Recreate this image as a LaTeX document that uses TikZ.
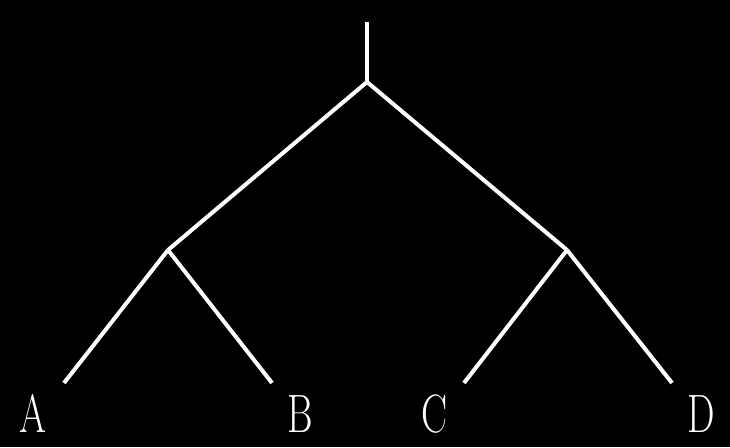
\documentclass[tikz,border=0pt]{standalone}
\usepackage{graphicx}
\usepackage{xcolor}
\usepackage{tikz}
\usetikzlibrary{positioning}
\newcommand{\leafname}[1]{\scalebox{0.72}[1]{#1}}

\begin{document}
\begin{tikzpicture}[
  x=1pt, y=-1pt,
  branch/.style={draw=white, line width=4pt},
  leaflabel/.style={font=\rmfamily\fontsize{54}{54}\selectfont, text=white,
    inner sep=0pt, anchor=base},
]
% background
\fill[black] (0,0) rectangle (730,447);
\useasboundingbox (0,0) rectangle (730,447);

% ======= Tree joints =======
\coordinate (stem) at (367, 22);
\coordinate (root) at (367, 82);
\coordinate (left) at (168, 250);
\coordinate (right) at (567, 250);

% Leaf ends
\coordinate (endA) at (64, 383);
\coordinate (endB) at (272, 383);
\coordinate (endC) at (464, 383);
\coordinate (endD) at (672, 383);

% ======= Branches =======
\draw[branch] (stem) -- (root);
\draw[branch] (root) -- (left);
\draw[branch] (root) -- (right);
\draw[branch] (left) -- (endA);
\draw[branch] (left) -- (endB);
\draw[branch] (right) -- (endC);
\draw[branch] (right) -- (endD);

% ======= Labels =======
\node[leaflabel] (labA) at (33, 432) {\leafname{A}};
\node[leaflabel] (labB) at (300, 432) {\leafname{B}};
\node[leaflabel] (labC) at (434, 432) {\leafname{C}};
\node[leaflabel] (labD) at (701, 432) {\leafname{D}};

\end{tikzpicture}
\end{document}
